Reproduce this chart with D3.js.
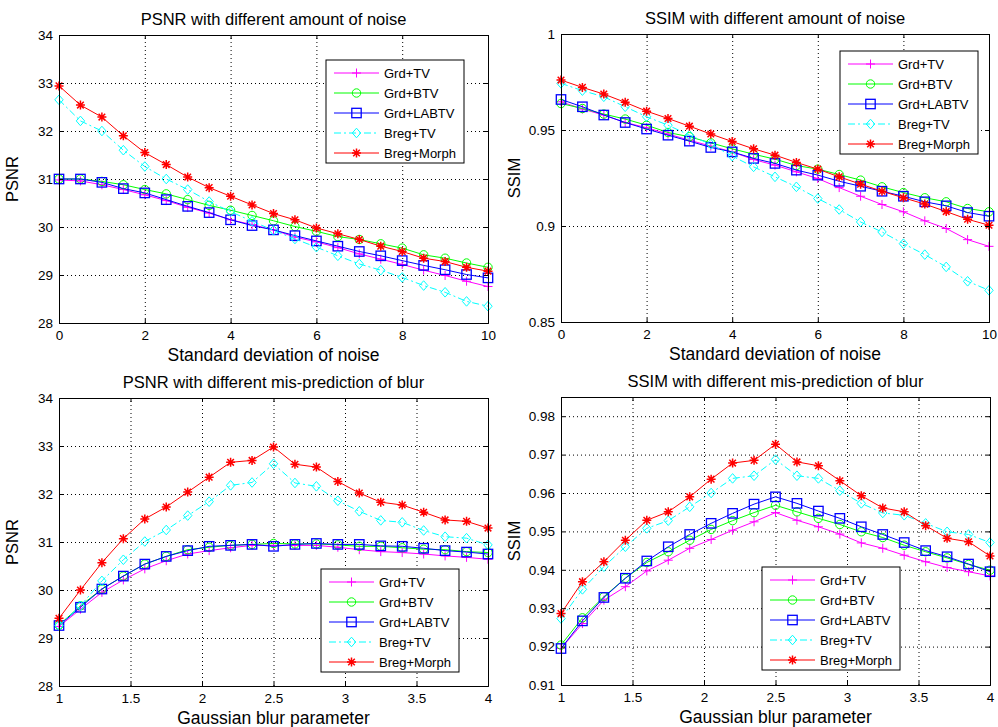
<!DOCTYPE html>
<html>
<head>
<meta charset="utf-8">
<script src="https://cdn.jsdelivr.net/npm/d3@7"></script>
<style>
  body { margin: 0; background: #fff; }
  svg { display: block; font-family: "Liberation Sans", Arial, sans-serif; }
</style>
</head>
<body>
<svg id="chart" width="998" height="727"></svg>
<script>
// ---- data ----
const methods = ["Grd+TV", "Grd+BTV", "Grd+LABTV", "Breg+TV", "Breg+Morph"];
const noiseLevels = [0, 0.5, 1, 1.5, 2, 2.5, 3, 3.5, 4, 4.5, 5, 5.5, 6, 6.5, 7, 7.5, 8, 8.5, 9, 9.5, 10];
const blurParams = [1, 1.15, 1.3, 1.45, 1.6, 1.75, 1.9, 2.05, 2.2, 2.35, 2.5, 2.65, 2.8, 2.95, 3.1, 3.25, 3.4, 3.55, 3.7, 3.85, 4];

// PSNR vs noise
const psnrNoiseGrdTV    = [30.98, 30.96, 30.88, 30.78, 30.67, 30.55, 30.41, 30.29, 30.15, 30.05, 29.94, 29.79, 29.69, 29.57, 29.44, 29.33, 29.22, 29.10, 28.99, 28.87, 28.76];
const psnrNoiseGrdBTV   = [31.00, 31.00, 30.95, 30.88, 30.78, 30.69, 30.57, 30.45, 30.35, 30.24, 30.13, 30.01, 29.91, 29.80, 29.74, 29.65, 29.56, 29.42, 29.35, 29.25, 29.16];
const psnrNoiseGrdLABTV = [31.00, 31.00, 30.93, 30.80, 30.71, 30.57, 30.43, 30.30, 30.15, 30.03, 29.94, 29.82, 29.71, 29.60, 29.49, 29.40, 29.30, 29.20, 29.11, 29.01, 28.94];
const psnrNoiseBregTV   = [32.65, 32.21, 32.00, 31.60, 31.26, 31.00, 30.78, 30.53, 30.32, 30.12, 29.93, 29.75, 29.58, 29.40, 29.23, 29.10, 28.95, 28.78, 28.64, 28.45, 28.35];
const psnrNoiseBregMorph = [32.94, 32.54, 32.29, 31.90, 31.55, 31.30, 31.04, 30.82, 30.64, 30.46, 30.28, 30.15, 29.98, 29.86, 29.74, 29.60, 29.49, 29.35, 29.28, 29.16, 29.08];

// SSIM vs noise
const ssimNoiseGrdTV    = [0.9647, 0.9609, 0.9578, 0.9539, 0.9512, 0.9479, 0.9447, 0.9416, 0.9386, 0.9346, 0.9317, 0.9282, 0.9247, 0.9200, 0.9155, 0.9112, 0.9074, 0.9027, 0.8987, 0.8929, 0.8894];
const ssimNoiseGrdBTV   = [0.9638, 0.9612, 0.9583, 0.9557, 0.9525, 0.9487, 0.9465, 0.9433, 0.9402, 0.9374, 0.9348, 0.9315, 0.9296, 0.9268, 0.9239, 0.9204, 0.9174, 0.9147, 0.9126, 0.9091, 0.9074];
const ssimNoiseGrdLABTV = [0.9659, 0.9621, 0.9578, 0.9539, 0.9505, 0.9473, 0.9442, 0.9409, 0.9386, 0.9352, 0.9326, 0.9291, 0.9265, 0.9233, 0.9207, 0.9181, 0.9155, 0.9126, 0.9105, 0.9070, 0.9051];
const ssimNoiseBregTV   = [0.9743, 0.9705, 0.9673, 0.9621, 0.9569, 0.9525, 0.9473, 0.9426, 0.9364, 0.9308, 0.9256, 0.9204, 0.9143, 0.9086, 0.9021, 0.8969, 0.8908, 0.8851, 0.8787, 0.8712, 0.8665];
const ssimNoiseBregMorph = [0.9760, 0.9722, 0.9687, 0.9644, 0.9598, 0.9560, 0.9520, 0.9479, 0.9440, 0.9402, 0.9369, 0.9331, 0.9296, 0.9256, 0.9218, 0.9181, 0.9147, 0.9114, 0.9075, 0.9035, 0.9004];

// PSNR vs blur
const psnrBlurGrdTV    = [29.24, 29.60, 29.95, 30.21, 30.44, 30.61, 30.75, 30.82, 30.88, 30.93, 30.93, 30.93, 30.93, 30.89, 30.84, 30.80, 30.78, 30.75, 30.71, 30.68, 30.64];
const psnrBlurGrdBTV   = [29.27, 29.67, 30.02, 30.29, 30.54, 30.70, 30.84, 30.89, 30.93, 30.95, 30.97, 30.96, 30.96, 30.94, 30.91, 30.91, 30.88, 30.85, 30.84, 30.80, 30.78];
const psnrBlurGrdLABTV = [29.26, 29.64, 30.02, 30.29, 30.54, 30.70, 30.82, 30.91, 30.93, 30.95, 30.91, 30.95, 30.97, 30.95, 30.95, 30.92, 30.91, 30.87, 30.82, 30.79, 30.75];
const psnrBlurBregTV   = [29.26, 29.67, 30.19, 30.63, 31.01, 31.25, 31.55, 31.84, 32.18, 32.24, 32.63, 32.23, 32.16, 31.86, 31.64, 31.45, 31.41, 31.24, 31.11, 31.08, 30.94];
const psnrBlurBregMorph = [29.41, 30.00, 30.57, 31.07, 31.48, 31.73, 32.04, 32.35, 32.66, 32.70, 32.98, 32.62, 32.56, 32.26, 32.02, 31.83, 31.77, 31.62, 31.46, 31.43, 31.29];

// SSIM vs blur
const ssimBlurGrdTV    = [0.9195, 0.9260, 0.9321, 0.9356, 0.9397, 0.9425, 0.9456, 0.9479, 0.9503, 0.9525, 0.9549, 0.9529, 0.9512, 0.9493, 0.9470, 0.9456, 0.9438, 0.9421, 0.9406, 0.9395, 0.9384];
const ssimBlurGrdBTV   = [0.9204, 0.9275, 0.9330, 0.9378, 0.9419, 0.9447, 0.9477, 0.9505, 0.9528, 0.9549, 0.9568, 0.9551, 0.9534, 0.9518, 0.9499, 0.9484, 0.9464, 0.9447, 0.9431, 0.9414, 0.9399];
const ssimBlurGrdLABTV = [0.9195, 0.9267, 0.9328, 0.9378, 0.9423, 0.9460, 0.9492, 0.9521, 0.9547, 0.9571, 0.9590, 0.9573, 0.9553, 0.9534, 0.9512, 0.9492, 0.9471, 0.9450, 0.9434, 0.9415, 0.9395];
const ssimBlurBregTV   = [0.9273, 0.9349, 0.9408, 0.9460, 0.9508, 0.9528, 0.9564, 0.9600, 0.9638, 0.9645, 0.9687, 0.9645, 0.9638, 0.9606, 0.9573, 0.9548, 0.9542, 0.9521, 0.9499, 0.9492, 0.9471];
const ssimBlurBregMorph = [0.9286, 0.9369, 0.9421, 0.9477, 0.9529, 0.9551, 0.9590, 0.9636, 0.9678, 0.9685, 0.9727, 0.9681, 0.9671, 0.9632, 0.9593, 0.9561, 0.9551, 0.9515, 0.9482, 0.9473, 0.9436];

const noiseTicks = [0, 2, 4, 6, 8, 10];
const blurTicks = [1, 1.5, 2, 2.5, 3, 3.5, 4];
const psnrTicks = [28, 29, 30, 31, 32, 33, 34];
const ssimNoiseTicks = [0.85, 0.9, 0.95, 1];
const ssimBlurTicks = [0.91, 0.92, 0.93, 0.94, 0.95, 0.96, 0.97, 0.98];

// ---- styles ----
const colors = ["#ff00ff", "#00ff00", "#0000ff", "#00ffff", "#ff0000"];
const markers = ["plus", "circle", "square", "diamond", "star"];
const dashes = [null, null, null, "7,3,2,3", null];

const panels = [
  { x: 59, y: 35, w: 429, h: 288, title: "PSNR with different amount of noise", xlab: "Standard deviation of noise", ylab: "PSNR",
    xs: noiseLevels, xdom: [0, 10], xticks: noiseTicks, ydom: [28, 34], yticks: psnrTicks,
    series: [psnrNoiseGrdTV, psnrNoiseGrdBTV, psnrNoiseGrdLABTV, psnrNoiseBregTV, psnrNoiseBregMorph], legend: [267, 25] },
  { x: 561, y: 34, w: 428, h: 288, title: "SSIM with different amount of noise", xlab: "Standard deviation of noise", ylab: "SSIM",
    xs: noiseLevels, xdom: [0, 10], xticks: noiseTicks, ydom: [0.85, 1], yticks: ssimNoiseTicks,
    series: [ssimNoiseGrdTV, ssimNoiseGrdBTV, ssimNoiseGrdLABTV, ssimNoiseBregTV, ssimNoiseBregMorph], legend: [279, 17] },
  { x: 59, y: 398, w: 429, h: 288, title: "PSNR with different mis-prediction of blur", xlab: "Gaussian blur parameter", ylab: "PSNR",
    xs: blurParams, xdom: [1, 4], xticks: blurTicks, ydom: [28, 34], yticks: psnrTicks,
    series: [psnrBlurGrdTV, psnrBlurGrdBTV, psnrBlurGrdLABTV, psnrBlurBregTV, psnrBlurBregMorph], legend: [262, 171] },
  { x: 561, y: 397, w: 429, h: 288, title: "SSIM with different mis-prediction of blur", xlab: "Gaussian blur parameter", ylab: "SSIM",
    xs: blurParams, xdom: [1, 4], xticks: blurTicks, ydom: [0.91, 0.985], yticks: ssimBlurTicks,
    series: [ssimBlurGrdTV, ssimBlurGrdBTV, ssimBlurGrdLABTV, ssimBlurBregTV, ssimBlurBregMorph], legend: [201, 170] }
];

const svg = d3.select("#chart");
svg.append("rect").attr("width", 998).attr("height", 727).attr("fill", "#fff");

function drawMarker(g, type, cx, cy, color) {
  const s = 4.5;
  if (type === "plus") {
    g.append("path").attr("d", `M${cx - s},${cy}H${cx + s}M${cx},${cy - s}V${cy + s}`)
      .attr("stroke", color).attr("fill", "none");
  } else if (type === "circle") {
    g.append("circle").attr("cx", cx).attr("cy", cy).attr("r", 4.2)
      .attr("stroke", color).attr("fill", "none");
  } else if (type === "square") {
    g.append("rect").attr("x", cx - 4.7).attr("y", cy - 4.7).attr("width", 9.4).attr("height", 9.4)
      .attr("stroke", color).attr("fill", "none").attr("stroke-width", 1.3);
  } else if (type === "diamond") {
    g.append("path").attr("d", `M${cx},${cy - 4.8}L${cx + 4.2},${cy}L${cx},${cy + 4.8}L${cx - 4.2},${cy}Z`)
      .attr("stroke", color).attr("fill", "none");
  } else if (type === "star") {
    const d = 3.3;
    g.append("path").attr("d", `M${cx - s},${cy}H${cx + s}M${cx},${cy - s}V${cy + s}M${cx - d},${cy - d}L${cx + d},${cy + d}M${cx - d},${cy + d}L${cx + d},${cy - d}`)
      .attr("stroke", color).attr("fill", "none").attr("stroke-width", 1.5);
  }
}

panels.forEach(function(p) {
  const g = svg.append("g").attr("transform", `translate(${p.x},${p.y})`);
  const x = d3.scaleLinear().domain(p.xdom).range([0, p.w]);
  const y = d3.scaleLinear().domain(p.ydom).range([p.h, 0]);
  const fmt = d => String(+d.toFixed(2));

  // dotted grid
  g.append("g").attr("transform", `translate(0,${p.h})`)
    .call(d3.axisBottom(x).tickValues(p.xticks).tickSize(-p.h).tickFormat(""))
    .call(a => a.select(".domain").remove())
    .selectAll("line").attr("stroke", "#000").attr("stroke-dasharray", "1,3");
  g.append("g")
    .call(d3.axisLeft(y).tickValues(p.yticks).tickSize(-p.w).tickFormat(""))
    .call(a => a.select(".domain").remove())
    .selectAll("line").attr("stroke", "#000").attr("stroke-dasharray", "1,3");

  // series
  p.series.forEach(function(vals, i) {
    const pts = p.xs.map((xv, k) => [xv, vals[k]]);
    const line = d3.line().x(d => x(d[0])).y(d => y(d[1]));
    const sg = g.append("g");
    sg.append("path").datum(pts).attr("d", line).attr("fill", "none")
      .attr("stroke", colors[i]).attr("stroke-width", 1)
      .attr("stroke-dasharray", dashes[i]);
    pts.forEach(d => drawMarker(sg, markers[i], x(d[0]), y(d[1]), colors[i]));
  });

  // axes with inward ticks
  const axFont = a => a.selectAll("text").attr("font-size", 13.5).attr("font-family", "Liberation Sans, Arial, sans-serif").attr("fill", "#000");
  g.append("g").attr("transform", `translate(0,${p.h})`)
    .call(d3.axisBottom(x).tickValues(p.xticks).tickSize(-4).tickPadding(7).tickFormat(fmt))
    .call(axFont);
  g.append("g")
    .call(d3.axisLeft(y).tickValues(p.yticks).tickSize(-4).tickPadding(6).tickFormat(fmt))
    .call(axFont);
  g.append("g")
    .call(d3.axisTop(x).tickValues(p.xticks).tickSize(-4).tickFormat(""));
  g.append("g").attr("transform", `translate(${p.w},0)`)
    .call(d3.axisRight(y).tickValues(p.yticks).tickSize(-4).tickFormat(""));
  g.selectAll(".domain").attr("stroke", "#000");

  // labels
  g.append("text").attr("x", p.w / 2).attr("y", -10).attr("text-anchor", "middle")
    .attr("font-size", 16.5).text(p.title);
  g.append("text").attr("x", p.w / 2).attr("y", p.h + 38).attr("text-anchor", "middle")
    .attr("font-size", 17.5).text(p.xlab);
  g.append("text").attr("transform", `translate(${-41},${p.h / 2}) rotate(-90)`)
    .attr("text-anchor", "middle").attr("font-size", 16.5).text(p.ylab);

  // legend
  const lg = g.append("g").attr("transform", `translate(${p.legend[0]},${p.legend[1]})`);
  lg.append("rect").attr("width", 138).attr("height", 103).attr("fill", "#fff").attr("stroke", "#000");
  methods.forEach(function(m, i) {
    const ly = 13 + i * 20;
    lg.append("line").attr("x1", 8).attr("x2", 53).attr("y1", ly).attr("y2", ly)
      .attr("stroke", colors[i]).attr("stroke-dasharray", dashes[i]);
    drawMarker(lg, markers[i], 30.5, ly, colors[i]);
    lg.append("text").attr("x", 58).attr("y", ly + 5).attr("font-size", 13).text(m);
  });
});
</script>
</body>
</html>
